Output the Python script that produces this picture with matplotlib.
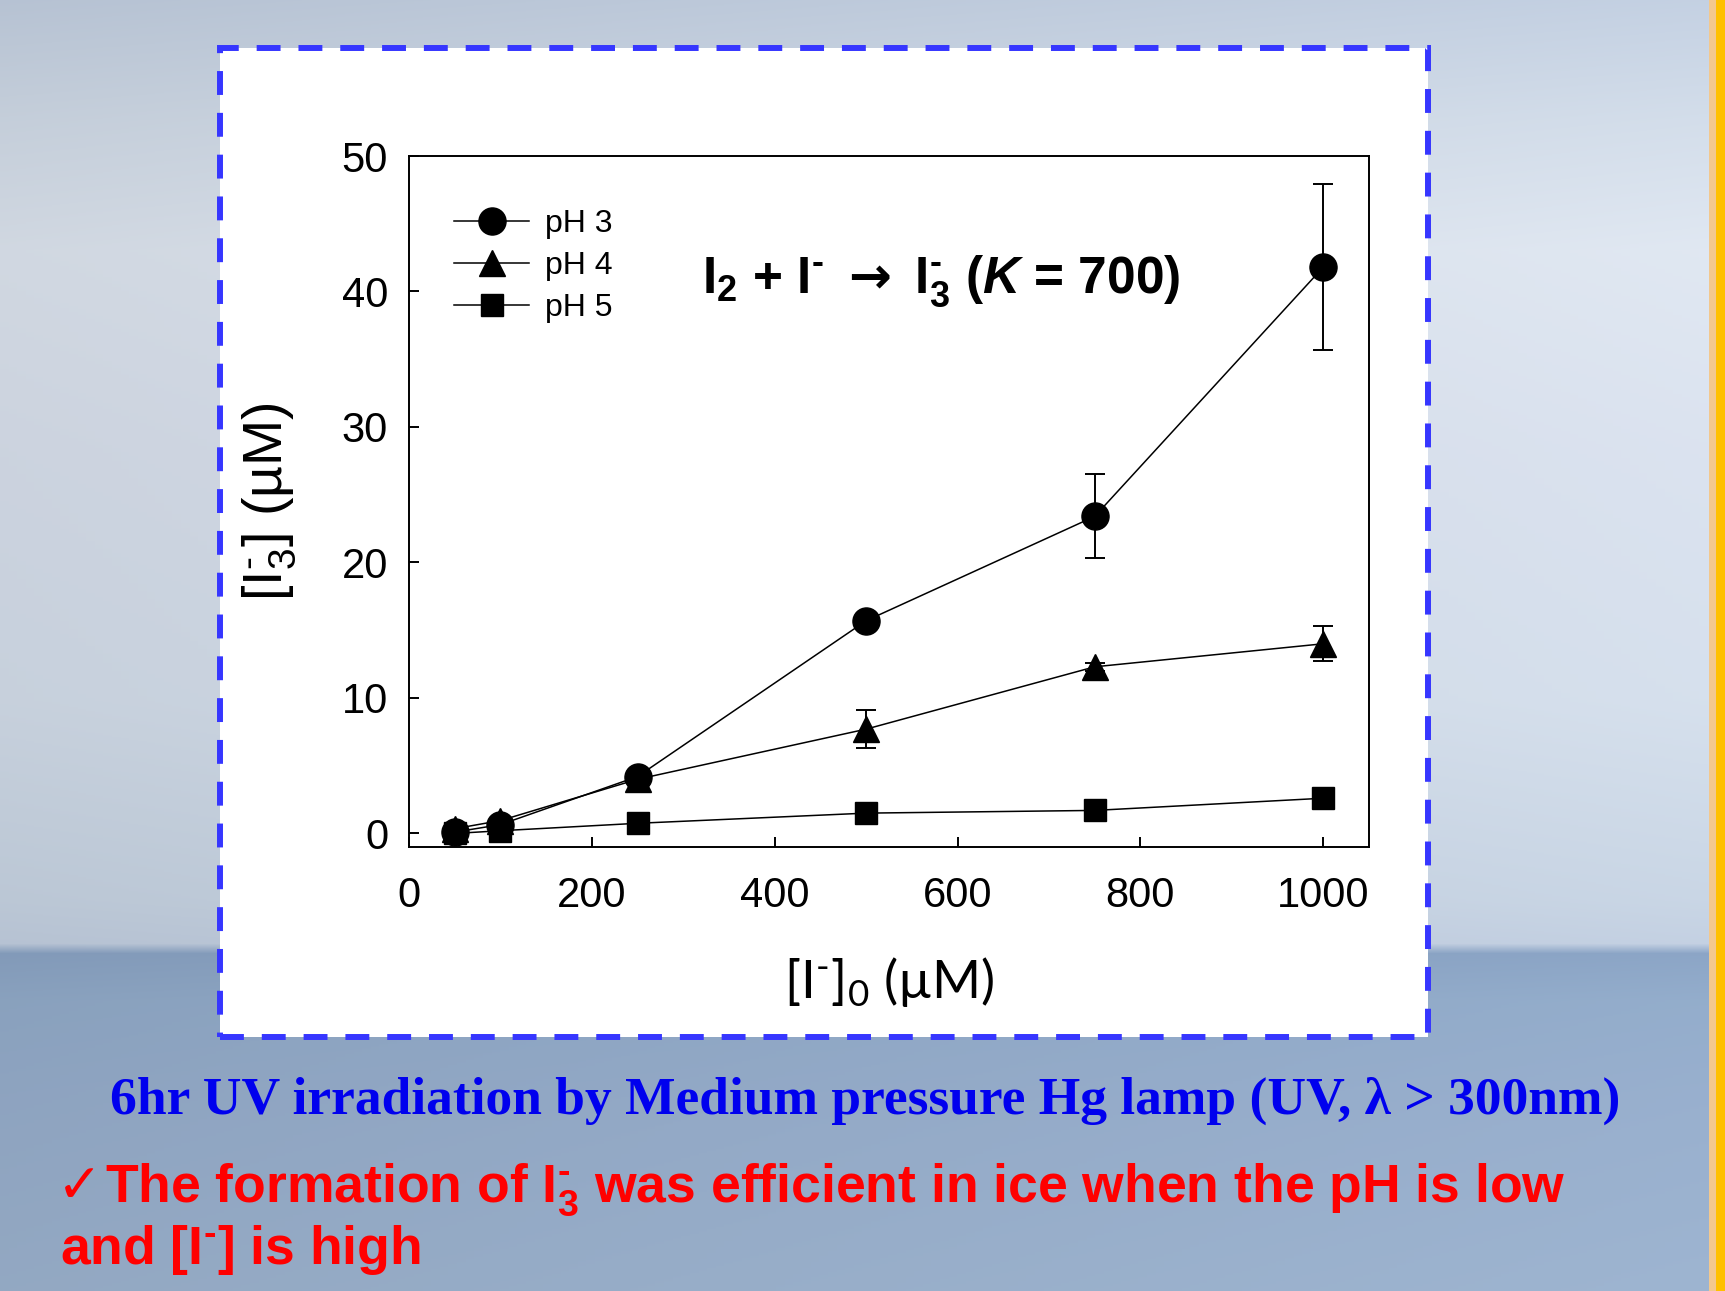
import numpy as np
import matplotlib
matplotlib.use('Agg')
import matplotlib.pyplot as plt
from matplotlib.patches import Rectangle

# ---------------- data ----------------
iodide_uM = [50, 100, 250, 500, 750, 1000]
series_labels = ['pH 3', 'pH 4', 'pH 5']
ph3_I3 = [0.1, 0.65, 4.2, 15.7, 23.4, 41.8]
ph3_err = [0, 0, 0, 0, 3.1, 6.1]
ph4_I3 = [0.35, 0.95, 4.0, 7.7, 12.3, 14.0]
ph4_err = [0, 0, 0, 1.4, 0.3, 1.3]
ph5_I3 = [0.0, 0.2, 0.75, 1.5, 1.7, 2.6]
ph5_err = [0, 0, 0, 0, 0, 0]
x_ticks = [0, 200, 400, 600, 800, 1000]
y_ticks = [0, 10, 20, 30, 40, 50]

plt.rcParams['font.family'] = ['Liberation Sans', 'DejaVu Sans']
plt.rcParams['mathtext.fontset'] = 'custom'
plt.rcParams['mathtext.rm'] = 'Liberation Sans'
plt.rcParams['mathtext.it'] = 'Liberation Sans:italic:bold'
plt.rcParams['mathtext.bf'] = 'Liberation Sans:bold'
plt.rcParams['mathtext.sf'] = 'DejaVu Sans:bold'
plt.rcParams['mathtext.default'] = 'regular'

HY = '\u2010'  # typographic hyphen (keeps the short dash of the original)

W, H = 1725, 1291
fig = plt.figure(figsize=(W / 100, H / 100), dpi=100)

# ---------------- background (sky / sea photo imitation) ----------------
bg = fig.add_axes([0, 0, 1, 1], zorder=0)
bg.axis('off')
stops_y = np.array([0, 120, 250, 450, 700, 900, 943, 953, 1000, 1100, 1291])
stops_c = np.array([
    [0.77, 0.82, 0.89], [0.83, 0.87, 0.92], [0.88, 0.91, 0.95],
    [0.86, 0.89, 0.94], [0.84, 0.88, 0.93], [0.79, 0.84, 0.90],
    [0.77, 0.82, 0.89], [0.55, 0.65, 0.78], [0.58, 0.68, 0.80],
    [0.60, 0.69, 0.81], [0.62, 0.71, 0.82]])
rows = np.arange(H)
prof = np.stack([np.interp(rows, stops_y, stops_c[:, k]) for k in range(3)], axis=1)
cols = np.linspace(0, 1, 200)
hfac = 0.93 + 0.07 * cols
img = prof[:, None, :] * hfac[None, :, None]
img = np.clip(img, 0, 1)
bg.imshow(img, extent=[0, 1, 0, 1], aspect='auto', transform=bg.transAxes)
bg.set_xlim(0, 1)
bg.set_ylim(0, 1)

# orange stripe on right edge
fig.add_artist(Rectangle((1709 / W, 0), 7 / W, 1, transform=fig.transFigure,
                         facecolor='#f3c88e', edgecolor='none', zorder=1))
fig.add_artist(Rectangle((1716 / W, 0), 9 / W, 1, transform=fig.transFigure,
                         facecolor='#ffc000', edgecolor='none', zorder=1))

# white panel with blue dashed border
px0, px1, py0, py1 = 220, 1428, 48, 1037
fig.add_artist(Rectangle((px0 / W, 1 - py1 / H), (px1 - px0) / W, (py1 - py0) / H,
                         transform=fig.transFigure, facecolor='white',
                         edgecolor='#3636ff', lw=4.3, linestyle=(0, (4, 3)),
                         zorder=2))

# ---------------- main chart ----------------
ax = fig.add_axes([409 / W, (H - 847) / H, 960 / W, 691 / H], zorder=3)
ax.set_facecolor('white')

series = [
    (ph3_I3, ph3_err, 'o', 19.5, series_labels[0]),
    (ph4_I3, ph4_err, '^', 19, series_labels[1]),
    (ph5_I3, ph5_err, 's', 16.5, series_labels[2]),
]
handles = []
zorders = {'o': 6, '^': 5, 's': 4}
for yv, ev, mk, ms, lab in series:
    h, = ax.plot(iodide_uM, yv, marker=mk, markersize=ms, color='black',
                 lw=1.1, label=lab, zorder=zorders[mk], clip_on=False)
    handles.append(h)
    xs = [x for x, e in zip(iodide_uM, ev) if e > 0]
    ys = [y for y, e in zip(yv, ev) if e > 0]
    es = [e for e in ev if e > 0]
    if xs:
        ax.errorbar(xs, ys, yerr=es, fmt='none', ecolor='black',
                    elinewidth=1.4, capsize=7.5, capthick=1.4,
                    zorder=zorders[mk] - 0.5)

ax.set_xlim(0, 1050)
ax.set_ylim(-1, 50)
ax.set_xticks(x_ticks)
ax.set_yticks(y_ticks)
for sp in ax.spines.values():
    sp.set_linewidth(1.4)
ax.tick_params(direction='in', length=7, width=1.4, labelsize=30)
ax.tick_params(axis='x', pad=21)
ax.tick_params(axis='y', pad=15)

ax.set_ylabel('[I$_3^{' + HY + '}$] (\u00b5M)', fontsize=40)
ax.yaxis.set_label_coords(-0.1156, 0.5)
ax.set_xlabel('[I$^{' + HY + '}$]$_0$ (\u00b5M)', fontsize=38,
              family=['Lato', 'DejaVu Sans'])
ax.xaxis.set_label_coords(0.5, -0.156)

ax.legend(handles=handles, loc='upper left', bbox_to_anchor=(0.047, 0.923),
          frameon=False, fontsize=23, handlelength=2.35, handletextpad=0.5,
          labelspacing=0.37, borderpad=0, borderaxespad=0)

ax.text(0.305, 0.802,
        'I$_2$ + I$^{' + HY + r'}$ $\mathsf{\rightarrow}$ I$_3^{' + HY +
        r'}$ ($\mathit{K}$ = 700)',
        transform=ax.transAxes, fontsize=37, fontweight='bold',
        ha='left', va='baseline')

# ---------------- captions ----------------
fig.text(865 / W, 1 - 1114 / H,
         '6hr UV irradiation by Medium pressure Hg lamp (UV, \u03bb > 300nm)',
         ha='center', va='baseline', fontsize=38.5, fontweight='bold',
         family=['Liberation Serif', 'DejaVu Serif'], color='#0000ee', zorder=5)

fig.text(57 / W, 1 - 1202 / H, '\u2713', ha='left', va='baseline', fontsize=39,
         family=['DejaVu Sans'], color='#ff0000', zorder=5)
fig.text(105 / W, 1 - 1202 / H,
         'The formation of I$_3^{' + HY + '}$ was efficient in ice when the pH is low',
         ha='left', va='baseline', fontsize=38.5, fontweight='bold',
         color='#ff0000', zorder=5)
fig.text(60 / W, 1 - 1264 / H, 'and [I$^{' + HY + '}$] is high',
         ha='left', va='baseline', fontsize=38.5, fontweight='bold',
         color='#ff0000', zorder=5)

fig.savefig('out.png', dpi=100)
